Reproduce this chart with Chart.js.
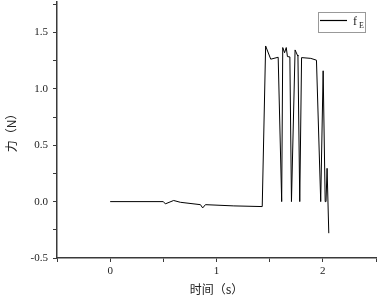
<!DOCTYPE html>
<html lang="zh">
<head>
<meta charset="UTF-8">
<title>力 - 时间</title>
<script src="https://cdn.jsdelivr.net/npm/chart.js"></script>
<style>
  * { margin: 0; padding: 0; }
  body { background: #fff; width: 378px; height: 297px; overflow: hidden; }
  #wrap { position: relative; width: 378px; height: 297px; }
</style>
</head>
<body>
<div id="wrap"><canvas id="chart"></canvas></div>
<script>
// time (s) and force (N)
const timeS = [0, 0.5, 0.519, 0.597, 0.66, 0.849, 0.87, 0.896, 1.163, 1.43,
  1.462, 1.51, 1.58, 1.613, 1.623, 1.64, 1.656, 1.667, 1.69, 1.705,
  1.739, 1.76, 1.766, 1.783, 1.80, 1.887, 1.94, 1.98, 2.003, 2.022,
  2.03, 2.04, 2.056];
const forceN = [0, 0, -0.02, 0.01, -0.006, -0.027, -0.056, -0.027, -0.038, -0.044,
  1.38, 1.263, 1.28, 0, 1.366, 1.32, 1.366, 1.286, 1.283, 0,
  1.345, 1.30, 1.29, 0, 1.277, 1.27, 1.254, 0, 1.16, 0,
  0, 0.295, -0.28];
const seriesName = 'f';
const seriesSub = 'E';
const xTitle = '时间（s）';
const yTitle = '力（N）';

const axisColor = '#3a3a3a';
const serif = '"Liberation Serif", "DejaVu Serif", serif';

const legendBox = {
  id: 'legendBox',
  afterDraw(chart) {
    const c = chart.ctx;
    c.save();
    c.strokeStyle = '#999';
    c.lineWidth = 1;
    c.strokeRect(318.5, 12.5, 47, 20);
    c.strokeStyle = '#000';
    c.lineWidth = 1.2;
    c.beginPath();
    c.moveTo(320, 20.5);
    c.lineTo(347, 20.5);
    c.stroke();
    c.fillStyle = '#222';
    c.textBaseline = 'alphabetic';
    c.font = '12px ' + serif;
    c.fillText(seriesName, 353, 25);
    c.font = '8px ' + serif;
    c.fillText(seriesSub, 359, 28);
    c.restore();
  }
};

new Chart(document.getElementById('chart'), {
  type: 'scatter',
  data: {
    datasets: [{
      label: seriesName + seriesSub,
      data: timeS.map((t, i) => ({ x: t, y: forceN[i] })),
      showLine: true,
      borderColor: '#000',
      borderWidth: 1,
      pointRadius: 0,
      tension: 0
    }]
  },
  options: {
    responsive: true,
    maintainAspectRatio: false,
    animation: false,
    layout: { padding: { top: 2, right: 2, left: 0, bottom: 0 } },
    plugins: { legend: { display: false }, tooltip: { enabled: false } },
    scales: {
      x: {
        type: 'linear',
        min: -0.5,
        max: 2.5,
        afterFit(s) { s.height = 39; s.paddingRight = 0; },
        border: { display: true, color: axisColor, width: 1.5 },
        grid: { display: true, drawOnChartArea: false, tickLength: 4, tickColor: axisColor, tickWidth: 1 },
        ticks: {
          stepSize: 0.5,
          includeBounds: false,
          color: '#222',
          padding: 3,
          font: { family: serif, size: 11 },
          callback: v => Number.isInteger(v) ? String(v) : ''
        },
        title: {
          display: true,
          text: xTitle,
          color: '#222',
          padding: { top: 0, bottom: 0 },
          font: { family: '"Noto Sans CJK SC", serif', size: 12 }
        }
      },
      y: {
        min: -0.5,
        max: 1.77,
        afterFit(s) { s.width = 57; s.paddingTop = 0; },
        border: { display: true, color: axisColor, width: 1.5 },
        grid: { display: true, drawOnChartArea: false, tickLength: 4, tickColor: axisColor, tickWidth: 1 },
        ticks: {
          stepSize: 0.25,
          includeBounds: false,
          color: '#222',
          padding: 5,
          font: { family: serif, size: 11 },
          callback: v => Math.abs(v * 2 - Math.round(v * 2)) < 1e-6 ? v.toFixed(1) : ''
        },
        title: {
          display: true,
          text: yTitle,
          color: '#222',
          padding: { top: 4, bottom: 0 },
          font: { family: '"Noto Sans CJK SC", serif', size: 12 }
        }
      }
    }
  },
  plugins: [legendBox]
});
</script>
</body>
</html>
